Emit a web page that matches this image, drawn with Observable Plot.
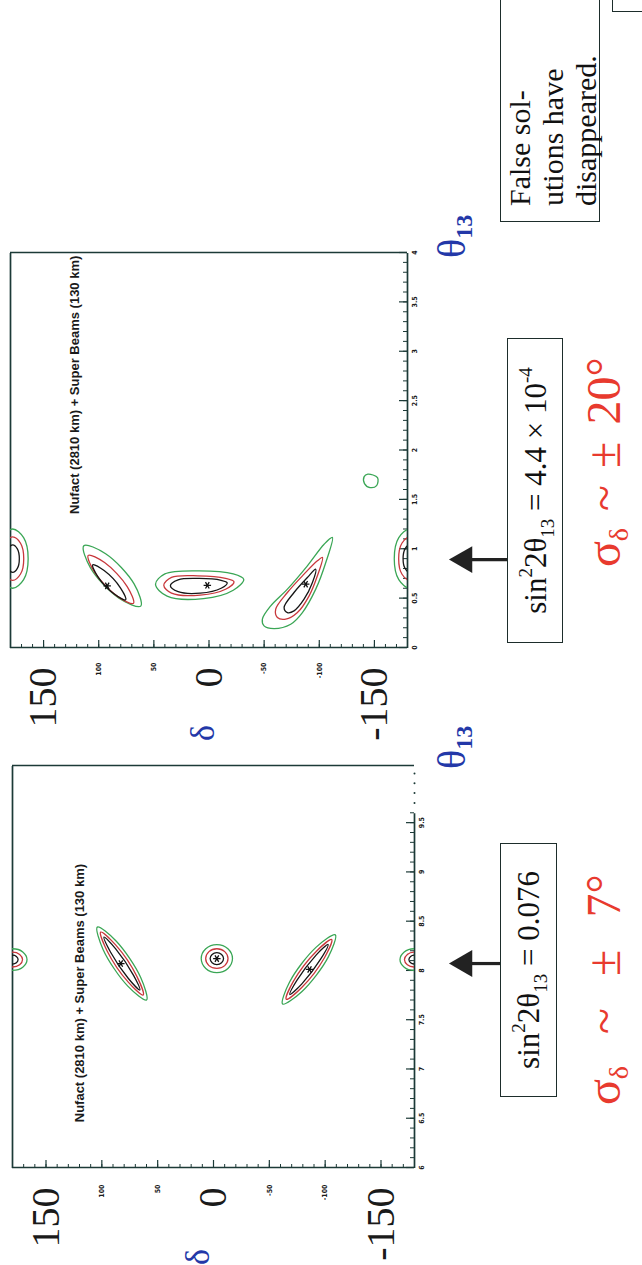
<!DOCTYPE html>
<html><head><meta charset="utf-8">
<script src="https://cdn.jsdelivr.net/npm/d3@7"></script>
<script src="https://cdn.jsdelivr.net/npm/@observablehq/plot@0.6"></script>
<style>
html,body{margin:0;padding:0;background:#fff;width:642px;height:1265px;overflow:hidden;}
#slide{position:absolute;left:0;top:0;width:1265px;height:642px;transform-origin:0 0;transform:translateY(1265px) rotate(-90deg);font-family:"Liberation Serif","Times New Roman",serif;color:#111;}
.panel{position:absolute;top:0;}
.abs{position:absolute;white-space:nowrap;line-height:1;}
.sym{color:#2338a8;font-size:34px;}
.th{color:#2338a8;font-size:40px;}
.th sub{font-size:24px;font-weight:bold;vertical-align:-0.28em;line-height:0;}
.box{position:absolute;border:1.6px solid #1d2d2b;box-sizing:border-box;display:flex;align-items:center;justify-content:center;font-size:31px;white-space:nowrap;}
.box span{display:inline-block;line-height:1;}
.box sup{font-size:19px;vertical-align:0.75em;line-height:0;}
.box sub{font-size:19px;vertical-align:-0.4em;line-height:0;}
.sig{color:#e83a2e;font-size:48px;}
.sig sub{font-size:28px;vertical-align:-0.3em;line-height:0;}
.note{position:absolute;border:1.6px solid #1d2d2b;box-sizing:border-box;font-size:30px;line-height:33px;padding:2px 0 0 15px;white-space:nowrap;}
.corner{position:absolute;border:1.6px solid #1d2d2b;box-sizing:border-box;}
</style></head>
<body>
<div id="slide">
  <div class="panel" id="pL" style="left:0px"></div>
  <div class="panel" id="pR" style="left:520px"></div>

  <div class="abs sym" style="left:0px;top:181px">δ</div>
  <div class="abs sym" style="left:524px;top:186px">δ</div>
  <div class="abs th" style="left:496px;top:432px">θ<sub>13</sub></div>
  <div class="abs th" style="left:1007px;top:432px">θ<sub>13</sub></div>

  <div class="box" style="left:168px;top:500px;width:254px;height:57px"><span>sin<sup>2</sup>2θ<sub>13</sub>&nbsp;=&nbsp;0.076</span></div>
  <div class="box" style="left:622px;top:507px;width:305px;height:56px"><span>sin<sup>2</sup>2θ<sub>13</sub>&nbsp;=&nbsp;4.4&nbsp;×&nbsp;10<sup>-4</sup></span></div>

  <div class="abs sig" style="left:160px;top:580px;word-spacing:20px">σ<sub>δ</sub> ~ ± 7°</div>
  <div class="abs sig" style="left:698px;top:580px;word-spacing:5px">σ<sub>δ</sub> ~ ± 20°</div>

  <div class="note" style="left:1043px;top:500px;width:260px;height:100px">False sol-<br>utions have<br>disappeared.</div>
  <div class="corner" style="left:1253px;top:612px;width:80px;height:80px"></div>
</div>
<script>
// ---------- data ----------
const panelLabel = "Nufact (2810 km) + Super Beams (130 km)";
const deltaMajorTicks = [150, 100, 50, 0, -50, -100, -150];
const deltaSmallLabels = [100, 50, -50, -100];
const deltaBigLabels = [150, 0, -150];

const leftThetaTicks = [6, 6.5, 7, 7.5, 8, 8.5, 9, 9.5];
const leftThetaLabels = ["6", "6.5", "7", "7.5", "8", "8.5", "9", "9.5"];
const rightThetaTicks = [0, 0.5, 1, 1.5, 2, 2.5, 3, 3.5, 4];
const rightThetaLabels = ["0", "0.5", "1", "1.5", "2", "2.5", "3", "3.5", "4"];

// contour rings: [theta13 (deg), delta (deg)]
const leftContours = [
  {level: "green", wrap: true, pts: [[8.22,180],[8.188,189.2],[8.11,193],[8.032,189.2],[8.0,180],[8.032,170.8],[8.11,167],[8.188,170.8]]},
  {level: "red",   wrap: true, pts: [[8.185,180],[8.163,186.4],[8.11,189],[8.057,186.4],[8.035,180],[8.057,173.6],[8.11,171],[8.163,173.6]]},
  {level: "black", wrap: true, pts: [[8.155,180],[8.142,183.5],[8.11,185],[8.078,183.5],[8.065,180],[8.078,176.5],[8.11,175],[8.142,176.5]]},
  {level: "green", pts: [[8.440,104.05],[8.211,98.8],[7.841,76.75],[7.700,59.95],[7.929,65.2],[8.299,87.25]]},
  {level: "red",   pts: [[8.389,101.05],[8.200,95.37],[7.881,76.33],[7.751,62.95],[7.940,68.63],[8.259,87.67]]},
  {level: "black", pts: [[8.339,98.04],[8.187,92.27],[7.918,76.23],[7.801,65.96],[7.953,71.73],[8.222,87.77]]},
  {level: "green", pts: [[8.262,-3],[8.220,6.9],[8.12,11],[8.02,6.9],[7.978,-3],[8.02,-12.9],[8.12,-17],[8.22,-12.9]]},
  {level: "red",   pts: [[8.22,-3],[8.191,4.07],[8.12,7],[8.049,4.07],[8.02,-3],[8.049,-10.07],[8.12,-13],[8.191,-10.07]]},
  {level: "black", pts: [[8.18,-3],[8.162,1.24],[8.12,3],[8.078,1.24],[8.06,-3],[8.078,-7.24],[8.12,-9],[8.162,-7.24]]},
  {level: "green", pts: [[8.361,-109.09],[8.234,-91.75],[7.883,-68.15],[7.659,-61.91],[7.787,-79.25],[8.138,-102.85]]},
  {level: "red",   pts: [[8.313,-105.84],[8.193,-91.97],[7.891,-71.63],[7.707,-65.16],[7.827,-79.03],[8.129,-99.37]]},
  {level: "black", pts: [[8.264,-102.59],[8.156,-91.88],[7.901,-74.80],[7.756,-68.41],[7.864,-79.12],[8.119,-96.20]]}
];
const leftStars = [[8.07, 83], [8.12, -3], [8.01, -86]];

const rightContours = [
  {level: "green", wrap: true, pts: [[1.2,178],[1.112,187.9],[0.9,192],[0.688,187.9],[0.6,178],[0.688,168.1],[0.9,164],[1.112,168.1]]},
  {level: "red",   wrap: true, pts: [[1.12,178],[1.056,185.1],[0.9,188],[0.744,185.1],[0.68,178],[0.744,170.9],[0.9,168],[1.056,170.9]]},
  {level: "black", wrap: true, pts: [[1.04,178],[0.999,182.2],[0.9,184],[0.801,182.2],[0.76,178],[0.801,173.8],[0.9,172],[0.999,173.8]]},
  {level: "green", pts: [[1.031,113.52],[0.806,107.47],[0.500,81.65],[0.419,61.88],[0.644,67.93],[0.950,93.75]]},
  {level: "red",   pts: [[0.933,109.53],[0.764,103.83],[0.520,83.31],[0.447,68.47],[0.617,74.17],[0.860,94.69]]},
  {level: "black", pts: [[0.837,105.43],[0.718,100.82],[0.541,85.89],[0.483,75.57],[0.602,80.18],[0.779,95.11]]},
  {level: "green", pts: [[0.64,48.5],[0.745,40],[0.776,10],[0.745,-22],[0.69,-31.5],[0.58,-22],[0.495,5],[0.52,38]]},
  {level: "red",   pts: [[0.63,41],[0.71,34],[0.726,10],[0.70,-15],[0.665,-22.7],[0.59,-15],[0.53,8],[0.55,34]]},
  {level: "black", pts: [[0.625,35],[0.685,28],[0.699,9],[0.68,-11],[0.655,-16.5],[0.6,-11],[0.55,8],[0.565,28]]},
  {level: "green", pts: [[1.114,-111.9],[0.861,-105.9],[0.591,-96.8],[0.354,-84.7],[0.236,-74.1],[0.192,-59.0],[0.219,-49.9],[0.287,-48.4],[0.422,-56.0],[0.591,-71.1],[0.827,-89.2],[1.046,-104.4]]},
  {level: "red",   pts: [[0.911,-102.9],[0.726,-98.3],[0.523,-90.8],[0.354,-80.2],[0.287,-69.6],[0.304,-62.0],[0.388,-60.5],[0.557,-71.1],[0.743,-86.2],[0.878,-98.3]]},
  {level: "black", pts: [[0.793,-96.8],[0.658,-93.8],[0.489,-86.2],[0.371,-77.1],[0.354,-71.1],[0.405,-68.1],[0.557,-77.1],[0.709,-89.2]]},
  {level: "green", pts: [[1.755,-144],[1.72,-152.8],[1.64,-152],[1.62,-146],[1.66,-141],[1.73,-140.7]]}
];
const rightStars = [[0.624, 92.3], [0.63, 1.5], [0.641, -87.7]];

const levels = ["green", "red", "black"];
const levelColors = ["#3aa655", "#c8383c", "#161616"];

// ---------- drawing ----------
const FRAME = "#1c3a37";
const NARROW = "'Liberation Sans Narrow','DejaVu Sans Condensed','Arial Narrow',sans-serif";
const SANS = "'Liberation Sans',Arial,sans-serif";
const SERIF = "'Liberation Serif','Times New Roman',serif";

function ringRows(contours) {
  const out = [];
  contours.forEach((c, i) => {
    c.pts.forEach(([t, d]) => out.push({theta: t, delta: d, id: i, level: c.level}));
    if (c.wrap) c.pts.forEach(([t, d]) => out.push({theta: t, delta: d - 360, id: i + 1000, level: c.level}));
  });
  return out;
}

function panel(o) {
  const rows = ringRows(o.contours);
  const [x0, x1] = o.xDomain;
  const innerH = 642 - o.marginTop - o.marginBottom;
  const Yb = 642 - o.marginBottom;                                    // pixel row of the bottom axis
  const pxX = (x1 - x0) / (o.width - o.marginLeft - o.marginRight);   // theta per px
  const pxY = 360 / innerH;                                           // delta per px
  const below = (Y) => -180 - (Y - Yb) * pxY;                         // delta value of a row below the axis
  const labelMap = new Map(o.thetaTicks.map((t, i) => [t, o.thetaLabels[i]]));
  const minorTheta = d3.range(x0, o.solidEnd + 1e-9, 0.1);
  const minorDelta = d3.range(-170, 171, 10);
  const marks = [
    // frame
    Plot.ruleX([x0], {y1: -180, y2: 180, stroke: FRAME, strokeWidth: 1.7}),
    Plot.ruleX([x1], {y1: -180, y2: 180, stroke: FRAME, strokeWidth: 1.7}),
    Plot.ruleY([180], {x1: x0, x2: x1, stroke: FRAME, strokeWidth: 1.7}),
    Plot.ruleY([-180], {x1: x0, x2: o.solidEnd, stroke: FRAME, strokeWidth: 1.7}),
    Plot.dot(o.dotTicks, {x: d => d, y: -180, r: 1, fill: FRAME, stroke: null}),
    // inward ticks
    Plot.ruleX(minorTheta, {x: d => d, y1: -180, y2: -180 + 4 * pxY, stroke: FRAME, strokeWidth: 1}),
    Plot.ruleX(o.thetaTicks.filter(t => t <= o.solidEnd), {x: d => d, y1: -180, y2: -180 + 8 * pxY, stroke: FRAME, strokeWidth: 1.2}),
    Plot.ruleY(minorDelta, {y: d => d, x1: x0, x2: x0 + 4 * pxX, stroke: FRAME, strokeWidth: 1}),
    Plot.ruleY(deltaMajorTicks, {y: d => d, x1: x0, x2: x0 + 8 * pxX, stroke: FRAME, strokeWidth: 1.2}),
    // tick labels
    Plot.axisX({ticks: o.thetaTicks, tickFormat: d => labelMap.get(d), tickSize: 0, tickPadding: 5, fontSize: 7, fontWeight: "bold", fontFamily: NARROW, label: null}),
    Plot.axisY({ticks: deltaSmallLabels, tickFormat: d => String(d), tickSize: 0, tickPadding: o.smallPad, fontSize: 7, fontWeight: "bold", fontFamily: NARROW, label: null}),
    Plot.axisY({ticks: deltaBigLabels, tickFormat: d => String(d), tickSize: 0, tickPadding: 20, fontSize: 40, fontFamily: SERIF, label: null}),
    // contours
    ...levels.map((lv, k) => Plot.line(rows.filter(r => r.level === lv), {x: "theta", y: "delta", z: "id", stroke: levelColors[k], strokeWidth: 1.3, curve: "catmull-rom-closed", clip: true})),
    Plot.dot(o.stars, {x: d => d[0], y: d => d[1], symbol: "asterisk", r: 3.5, stroke: "#111", strokeWidth: 1.3}),
    // in-panel caption
    Plot.text([panelLabel], {x: o.textAt[0], y: o.textAt[1], text: d => d, fontSize: 13, fontWeight: "bold", fontFamily: SANS, fill: "#1a1a1a", ariaLabel: "caption"}),
    // arrow pointing at the quoted theta13
    Plot.ruleX([o.arrowTheta], {x: d => d, y1: below(o.arrowTail), y2: below(468), stroke: "#222", strokeWidth: 3.2}),
    Plot.dot([o.arrowTheta], {x: d => d, y: below(464), symbol: "triangle", r: 10, fill: "#222", stroke: null})
  ];
  const svg = Plot.plot({
    width: o.width, height: 642,
    marginLeft: o.marginLeft, marginRight: o.marginRight, marginTop: o.marginTop, marginBottom: o.marginBottom,
    x: {domain: o.xDomain}, y: {domain: [-180, 180]},
    style: {background: "transparent", overflow: "visible", color: "#1a1a1a"},
    marks
  });
  svg.querySelectorAll('g[aria-label="caption"] text').forEach(t => t.style.letterSpacing = "0.2px");
  return svg;
}

document.getElementById("pL").appendChild(panel({
  width: 530, marginLeft: 97, marginRight: 31, marginTop: 12, marginBottom: 228,
  xDomain: [6, 10.08], solidEnd: 9.6, dotTicks: [9.7, 9.8, 9.9, 10.0],
  thetaTicks: leftThetaTicks, thetaLabels: leftThetaLabels,
  contours: leftContours, stars: leftStars, textAt: [7.77, 120], smallPad: 17,
  arrowTheta: 8.07, arrowTail: 500
}));
document.getElementById("pR").appendChild(panel({
  width: 520, marginLeft: 97, marginRight: 28, marginTop: 10, marginBottom: 235,
  xDomain: [0, 4], solidEnd: 4, dotTicks: [],
  thetaTicks: rightThetaTicks, thetaLabels: rightThetaLabels,
  contours: rightContours, stars: rightStars, textAt: [2.66, 122], smallPad: 15,
  arrowTheta: 0.89, arrowTail: 507
}));
</script>
</body></html>
